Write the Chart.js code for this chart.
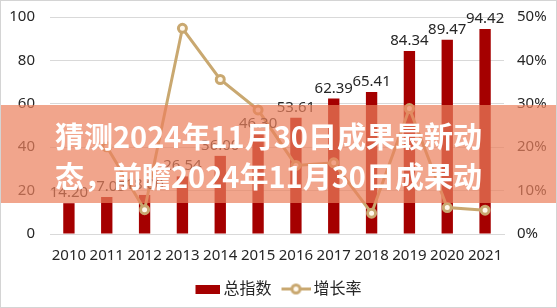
<!DOCTYPE html>
<html>
<head>
<meta charset="utf-8">
<script src="https://cdn.jsdelivr.net/npm/chart.js@4/dist/chart.umd.min.js"></script>
<style>
  body { margin: 0; background: #fff; }
  #wrap { position: relative; width: 557px; height: 308px; overflow: hidden; background: #fff; }
  #banner { position: absolute; left: 0; top: 105px; width: 557px; height: 98px; background: rgba(235, 128, 93, 0.71); }
  #banner div { position: absolute; left: 55px; top: 10px; color: #fff; font: bold 29px "Noto Sans CJK SC"; line-height: 40px; white-space: nowrap; }
  #frame { position: absolute; left: 0; top: 0; right: 0; bottom: 0; border: 1px solid #d4d4d4; pointer-events: none; }
</style>
</head>
<body>
<div id="wrap">
  <canvas id="myChart" width="557" height="308"></canvas>
  <div id="banner"><div>猜测2024年11月30日成果最新动<br>态，前瞻2024年11月30日成果动</div></div>
  <div id="frame"></div>
</div>
<script>
const years = ['2010', '2011', '2012', '2013', '2014', '2015', '2016', '2017', '2018', '2019', '2020', '2021'];
const totalIndex = [14.20, 17.05, 18.00, 26.54, 36.00, 46.30, 53.61, 62.39, 65.41, 84.34, 89.47, 94.42];
const growthRate = [null, 20.1, 5.6, 47.4, 35.6, 28.6, 15.8, 16.4, 4.8, 28.9, 6.1, 5.5];
const leftTicks = [0, 20, 40, 60, 80, 100];
const rightTicks = [0, 10, 20, 30, 40, 50];

const barColor = '#A50000';
const lineColor = '#C9A870';
const textColor = '#262626';
const fontFamily = '"Noto Sans", "Noto Sans CJK SC", sans-serif';

// legend icons, drawn into small canvases
function barIcon() {
  let c = document.createElement('canvas');
  c.width = 30; c.height = 9;
  let g = c.getContext('2d');
  g.fillStyle = barColor;
  g.fillRect(5, 0, 25, 9);
  return c;
}
function lineIcon() {
  let c = document.createElement('canvas');
  c.width = 30; c.height = 13;
  let g = c.getContext('2d');
  g.strokeStyle = lineColor;
  g.lineWidth = 3;
  g.beginPath(); g.moveTo(1, 6.5); g.lineTo(30, 6.5); g.stroke();
  g.fillStyle = '#FFF8EC';
  g.beginPath(); g.arc(15.5, 6.5, 4, 0, Math.PI * 2); g.fill(); g.stroke();
  return c;
}
const icons = [barIcon(), lineIcon()];

// value labels above the bars
const barLabels = {
  id: 'barLabels',
  afterDatasetsDraw(chart) {
    let ctx = chart.ctx;
    let meta = chart.getDatasetMeta(0);
    ctx.save();
    ctx.font = '15px ' + fontFamily;
    ctx.fillStyle = textColor;
    ctx.textAlign = 'center';
    ctx.textBaseline = 'alphabetic';
    meta.data.forEach((el, i) => {
      ctx.fillText(totalIndex[i].toFixed(2), el.x, el.y - 6);
    });
    ctx.restore();
  }
};

function fixY(width) {
  return (s) => {
    s.width = width;
    s.paddingTop = 0;
    s.paddingBottom = 0;
  };
}

let chart = new Chart(document.getElementById('myChart').getContext('2d'), {
  type: 'bar',
  data: {
    labels: years,
    datasets: [{
      label: '总指数',
      data: totalIndex,
      backgroundColor: barColor,
      barPercentage: 0.3,
      categoryPercentage: 1,
      yAxisID: 'y',
      order: 2
    }, {
      type: 'line',
      label: '增长率',
      data: growthRate,
      borderColor: lineColor,
      borderWidth: 3,
      pointRadius: 4,
      pointBorderWidth: 3,
      pointBorderColor: lineColor,
      pointBackgroundColor: '#FFF8EC',
      tension: 0,
      yAxisID: 'y1',
      order: 1
    }]
  },
  options: {
    responsive: false,
    animation: false,
    devicePixelRatio: 1,
    layout: { padding: { top: 17, left: 0, right: 0, bottom: 1 } },
    plugins: {
      tooltip: { enabled: false },
      legend: {
        position: 'bottom',
        labels: {
          usePointStyle: true,
          pointStyleWidth: 20,
          padding: 14,
          color: textColor,
          font: { size: 16, family: fontFamily },
          generateLabels: (c) => c.data.datasets.map((ds, i) => ({
            text: ds.label,
            pointStyle: icons[i],
            datasetIndex: i,
            hidden: false,
            fontColor: textColor,
            lineWidth: 0,
            strokeStyle: 'rgba(0,0,0,0)',
            fillStyle: 'rgba(0,0,0,0)'
          }))
        }
      }
    },
    scales: {
      x: {
        afterFit: (s) => { s.height = s.height - 3; },
        grid: { display: false },
        border: { color: '#d9d9d9' },
        ticks: { color: textColor, font: { size: 15, family: fontFamily }, padding: 5, maxRotation: 0 }
      },
      y: {
        position: 'left',
        min: leftTicks[0],
        max: leftTicks[leftTicks.length - 1],
        afterFit: fixY(50),
        grid: { color: '#d9d9d9', drawTicks: false },
        border: { display: false },
        ticks: { stepSize: leftTicks[1] - leftTicks[0], color: textColor, font: { size: 15, family: fontFamily }, padding: 15 }
      },
      y1: {
        position: 'right',
        min: rightTicks[0],
        max: rightTicks[rightTicks.length - 1],
        afterFit: fixY(53),
        grid: { drawOnChartArea: false, drawTicks: false },
        border: { display: false },
        ticks: { stepSize: rightTicks[1] - rightTicks[0], color: textColor, font: { size: 15, family: fontFamily }, padding: 13, callback: (v) => v + '%' }
      }
    }
  },
  plugins: [barLabels]
});
</script>
</body>
</html>
